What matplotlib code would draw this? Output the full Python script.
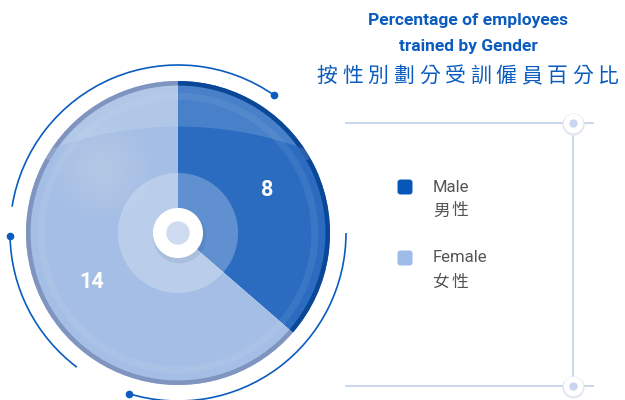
import numpy as np
import matplotlib.pyplot as plt
from matplotlib.patches import Circle, Arc, Polygon, FancyBboxPatch

# data
labels_en = ['Male', 'Female']
labels_zh = ['男性', '女性']
values = [8, 14]
colors = ['#2b6cc1', '#a4bee5']
rim_colors = ['#0b4797', '#7f95bf']
legend_colors = ['#0757b8', '#9dbbe6']
title_en = ['Percentage of employees', 'trained by Gender']
title_zh = '按性別劃分受訓僱員百分比'

W, H = 625, 400
fig = plt.figure(figsize=(W / 100, H / 100), dpi=100)
fig.patch.set_facecolor('white')

# background overlay in pixel coords (for decorations)
bg = fig.add_axes([0, 0, 1, 1])
bg.set_xlim(0, W)
bg.set_ylim(H, 0)
bg.axis('off')

# pie axes: centre (178, 233), radius 152 px
cx, cy, R = 178, 233, 152
half = 185
pax = fig.add_axes([(cx - half) / W, (H - cy - half) / H, 2 * half / W, 2 * half / H])

pie_kw = dict(startangle=90, counterclock=False)
pax.pie(values, radius=1.0, colors=colors, **pie_kw)
pax.pie(values, radius=1.0, colors=rim_colors, wedgeprops=dict(width=0.03), **pie_kw)

lim = half / R
pax.set_xlim(-lim, lim)
pax.set_ylim(-lim, lim)
pax.set_aspect('equal')
pax.axis('off')

# glossy cap on the top part
c, Rb = 1.74, 2.44
xa = np.linspace(-0.92, 0.92, 200)
ya = -c + np.sqrt(Rb ** 2 - xa ** 2)
r_in = 0.97
ang = np.linspace(np.arctan2(ya[-1], xa[-1]), np.arctan2(ya[0], xa[0]), 200)
cap = np.vstack([np.column_stack([xa, ya]),
                 np.column_stack([r_in * np.cos(ang), r_in * np.sin(ang)])])
pax.add_patch(Polygon(cap, closed=True, facecolor='white', alpha=0.14, edgecolor='none'))

# soft highlight at upper-left
for rr in np.linspace(0.32, 0.04, 10):
    pax.add_patch(Circle((-0.5, 0.42), rr, facecolor='white', alpha=0.025, edgecolor='none'))

# subtle ring near the edge
pax.add_patch(Circle((0, 0), 0.9, facecolor='none', edgecolor='white', alpha=0.07, lw=5))

# inner light ring and centre
pax.add_patch(Circle((0, 0), 0.395, facecolor='white', alpha=0.25, edgecolor='none'))
pax.add_patch(Circle((0.01, -0.025), 0.175, facecolor='#1f3d6b', alpha=0.10, edgecolor='none'))
pax.add_patch(Circle((0, 0), 0.165, facecolor='white', edgecolor='none'))
pax.add_patch(Circle((0, 0), 0.077, facecolor='#cfdbf1', edgecolor='none'))

# value labels
mid = np.cumsum(values) - np.array(values) / 2
for v, m, off in zip(values, mid, [1.5, 5]):
    a = np.deg2rad(90 - 360 * m / sum(values) + off)
    pax.text(0.65 * np.cos(a), 0.65 * np.sin(a), str(v), color='white',
             fontsize=15.5, fontweight='bold', family='Roboto', ha='center', va='center')

# outer thin arcs with dots
ra = 168 / R
for a1, a2, dot in [(55, 171, 55), (181, 233, 181), (253, 360, 253)]:
    pax.add_patch(Arc((0, 0), 2 * ra, 2 * ra, theta1=a1, theta2=a2, color='#0b5cbf', lw=1.2))
    pax.plot(ra * np.cos(np.deg2rad(dot)), ra * np.sin(np.deg2rad(dot)), 'o',
             color='#0b5cbf', ms=4.5)

# titles
tc = '#0b5cbf'
bg.text(468, 21, title_en[0], color=tc, fontsize=12.5, fontweight='bold', family='Roboto',
        ha='center', va='center')
bg.text(468, 46, title_en[1], color=tc, fontsize=12.5, fontweight='bold', family='Roboto',
        ha='center', va='center')
step = 25.6
for i, ch in enumerate(title_zh):
    bg.text(327 + i * step, 76, ch, color=tc, fontsize=15, fontweight='medium',
            family='Noto Sans CJK TC', ha='center', va='center')

# legend frame
lc = '#c5d3ee'
bg.plot([346, 593], [123, 123], color=lc, lw=1.3)
bg.plot([346, 593], [386, 386], color=lc, lw=1.3)
bg.plot([573, 573], [123, 386], color=lc, lw=1.3)
for yy in [123, 386]:
    bg.plot(573, yy + 0.5, 'o', ms=16, color='#e3e8f0', mec='none')
    bg.plot(573, yy, 'o', ms=14, color='white', mec='none')
    bg.plot(573, yy, 'o', ms=6, color='#c9d6f0', mec='none')

# legend entries
for i, (en, zh, col) in enumerate(zip(labels_en, labels_zh, legend_colors)):
    y0 = 187 + i * 71
    bg.add_patch(FancyBboxPatch((397.5, y0 - 7.5), 15, 15, boxstyle='round,pad=0,rounding_size=3',
                                facecolor=col, edgecolor='none'))
    bg.text(433, y0, en, color='#555555', fontsize=12, family='Roboto', ha='left', va='center')
    for j, ch in enumerate(zh):
        bg.text(433 + j * 19, y0 + 24, ch, color='#555555', fontsize=12,
                family='Noto Sans CJK TC', ha='left', va='center')

fig.savefig('out.png', dpi=100)
